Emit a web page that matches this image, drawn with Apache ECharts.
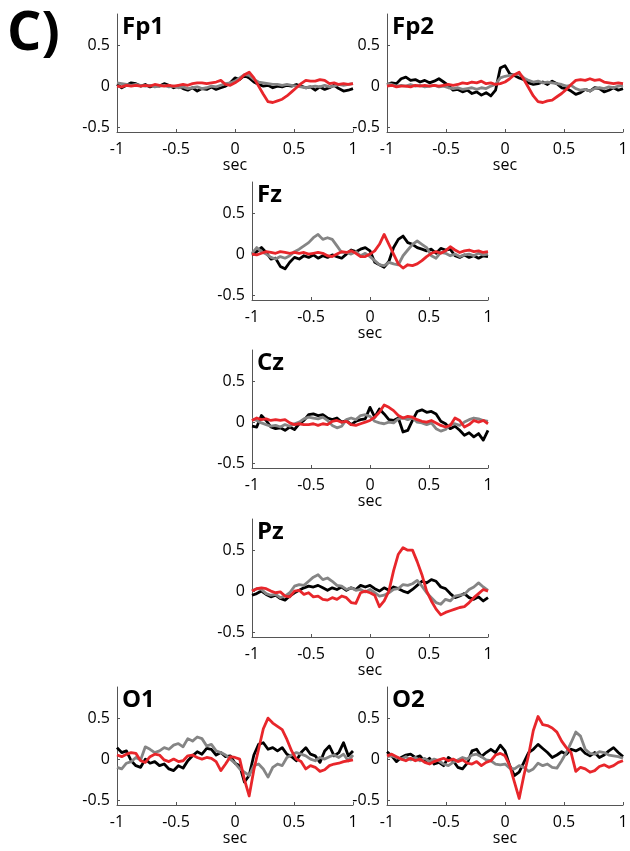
<!DOCTYPE html>
<html>
<head>
<meta charset="utf-8">
<script src="https://cdn.jsdelivr.net/npm/echarts@6/dist/echarts.min.js"></script>
<style>
html,body{margin:0;padding:0;background:#fff;}
#chart{width:630px;height:851px;}
</style>
</head>
<body>
<div id="chart"></div>
<script>
// ---- data (time in seconds) ----
const times = [-1,-0.96,-0.92,-0.88,-0.84,-0.8,-0.76,-0.72,-0.68,-0.64,-0.6,-0.56,-0.52,-0.48,-0.44,-0.4,-0.36,-0.32,-0.28,-0.24,-0.2,-0.16,-0.12,-0.08,-0.04,0,0.04,0.08,0.12,0.16,0.2,0.24,0.28,0.32,0.36,0.4,0.44,0.48,0.52,0.56,0.6,0.64,0.68,0.72,0.76,0.8,0.84,0.88,0.92,0.96,1];

const xTicks = [-1,-0.5,0,0.5,1];
const yTicks = [-0.5,0,0.5];
const panelNames = ['Fp1','Fp2','Fz','Cz','Pz','O1','O2'];

const fp1Black = [0.02,-0.02,0.01,0.04,0.03,0.00,0.02,-0.01,0.01,0.00,0.03,0.01,-0.02,0.00,-0.03,-0.05,-0.02,-0.06,-0.03,-0.04,-0.01,-0.04,-0.02,0.00,0.04,0.10,0.08,0.13,0.10,0.05,0.02,0.00,0.01,-0.02,0.00,-0.01,0.01,0.00,0.02,0.00,-0.02,-0.01,-0.05,-0.01,-0.04,-0.02,0.01,-0.03,-0.06,-0.05,-0.03];
const fp1Gray = [0.04,0.03,0.02,0.01,0.02,0.01,0.00,0.01,-0.01,0.00,0.01,-0.01,0.00,-0.02,-0.01,-0.03,-0.02,-0.01,-0.03,-0.02,0.00,-0.01,0.01,0.03,0.04,0.06,0.10,0.14,0.13,0.08,0.05,0.04,0.03,0.02,0.02,0.01,0.02,0.01,0.00,-0.01,-0.02,-0.01,0.00,-0.01,0.01,-0.01,0.00,0.02,0.01,0.02,0.03];
const fp1Red = [0.00,-0.01,0.01,0.00,0.01,0.00,0.01,0.00,0.02,0.01,0.00,0.01,0.00,0.01,0.02,0.01,0.03,0.04,0.04,0.03,0.04,0.05,0.07,0.02,0.01,0.04,0.08,0.14,0.17,0.10,0.00,-0.10,-0.19,-0.20,-0.18,-0.16,-0.12,-0.07,-0.02,0.03,0.07,0.06,0.06,0.08,0.07,0.03,0.04,0.02,0.03,0.02,0.03];

const fp2Black = [0.02,0.04,0.03,0.09,0.11,0.07,0.08,0.05,0.07,0.04,0.06,0.09,0.05,0.01,-0.05,-0.04,-0.07,-0.05,-0.09,-0.07,-0.11,-0.08,-0.12,-0.05,0.22,0.25,0.15,0.13,0.10,0.08,0.04,0.02,0.03,0.05,0.02,0.06,0.03,-0.02,-0.03,-0.06,-0.10,-0.08,-0.04,-0.06,-0.02,-0.03,-0.07,-0.05,-0.02,-0.05,-0.03];
const fp2Gray = [0.03,0.02,0.00,0.01,0.00,0.02,0.00,0.01,-0.01,0.00,0.01,-0.01,0.00,-0.02,-0.03,-0.02,-0.04,-0.03,-0.02,-0.04,-0.02,-0.03,0.00,0.02,0.10,0.12,0.13,0.14,0.15,0.10,0.07,0.05,0.06,0.04,0.05,0.04,0.03,0.02,0.00,0.01,-0.03,-0.05,-0.04,-0.06,-0.03,-0.02,-0.03,-0.01,-0.02,0.00,0.01];
const fp2Red = [0.00,0.01,-0.01,0.00,0.00,-0.01,0.01,0.00,0.01,0.00,0.01,0.00,0.01,0.02,0.01,0.02,0.04,0.03,0.05,0.04,0.06,0.03,0.04,0.02,0.03,0.05,0.09,0.14,0.17,0.08,-0.02,-0.12,-0.19,-0.20,-0.18,-0.17,-0.13,-0.09,-0.04,0.02,0.07,0.08,0.07,0.09,0.07,0.08,0.05,0.04,0.03,0.04,0.03];

const fzBlack = [-0.01,0.03,0.08,0.02,-0.06,-0.05,-0.15,-0.18,-0.10,-0.04,-0.06,-0.02,-0.04,-0.01,-0.05,-0.02,-0.04,-0.01,-0.03,-0.05,0.00,0.05,0.03,0.06,0.08,0.04,-0.10,-0.13,-0.16,-0.09,0.08,0.18,0.22,0.14,0.12,0.08,0.06,0.04,0.06,0.01,0.07,0.05,0.06,-0.02,-0.04,-0.01,-0.04,-0.02,-0.05,-0.02,-0.03];
const fzGray = [0.01,0.08,0.03,0.00,-0.04,-0.06,-0.03,-0.05,-0.02,0.03,0.06,0.10,0.14,0.20,0.24,0.18,0.20,0.18,0.10,0.02,0.02,0.00,0.03,-0.02,0.01,-0.03,-0.08,-0.13,-0.14,-0.10,-0.12,-0.13,-0.02,0.05,0.12,0.16,0.12,0.08,-0.02,-0.05,0.02,0.01,-0.02,0.00,-0.03,-0.01,0.00,-0.02,0.01,-0.01,0.00];
const fzRed = [0.00,-0.01,0.01,0.03,0.02,0.01,0.03,0.02,0.01,0.02,0.01,0.02,0.00,0.01,0.02,0.01,-0.02,-0.03,0.00,0.03,0.02,0.04,0.01,-0.03,-0.03,0.00,0.04,0.12,0.24,0.12,0.00,-0.12,-0.17,-0.13,-0.14,-0.12,-0.08,-0.03,0.01,0.03,0.01,0.04,0.09,0.05,0.02,0.04,0.05,0.03,0.04,0.02,0.03];

const czBlack = [-0.05,-0.06,0.08,0.02,-0.06,-0.08,-0.07,-0.10,-0.06,-0.09,-0.02,0.02,0.09,0.10,0.08,0.09,0.05,0.03,0.05,0.00,0.02,-0.03,0.01,0.03,0.04,0.18,0.06,0.16,0.10,0.03,0.02,0.05,-0.12,-0.10,0.02,0.13,0.15,0.12,0.13,0.10,0.01,-0.02,-0.08,-0.05,-0.10,-0.16,-0.13,-0.18,-0.14,-0.22,-0.10];
const czGray = [0.04,0.02,-0.01,-0.03,-0.05,-0.04,-0.06,-0.03,-0.05,-0.02,0.00,0.04,0.06,0.05,0.04,0.06,0.02,-0.04,-0.07,-0.05,0.03,0.05,0.03,0.08,0.09,0.07,0.01,-0.01,-0.02,0.00,-0.01,0.04,0.05,0.03,0.05,0.00,-0.01,-0.03,-0.01,-0.08,-0.11,-0.09,-0.03,-0.02,-0.04,0.00,0.03,0.05,0.04,0.02,0.01];
const czRed = [0.02,0.05,0.03,0.04,0.02,0.03,0.02,0.03,-0.01,-0.03,-0.02,-0.03,-0.03,-0.02,-0.04,-0.02,-0.03,0.01,0.02,0.00,0.01,-0.03,-0.04,-0.02,0.00,0.02,0.06,0.12,0.21,0.18,0.14,0.08,0.05,0.07,0.06,0.03,0.01,0.00,0.02,-0.01,-0.04,-0.06,-0.04,0.05,0.02,-0.06,-0.03,0.02,0.00,0.02,-0.02];

const pzBlack = [-0.05,-0.03,0.00,-0.04,-0.07,-0.05,-0.09,-0.11,-0.06,-0.02,0.01,0.04,0.06,0.05,0.07,0.04,0.01,0.04,0.02,0.05,0.01,0.04,0.02,0.07,0.05,0.07,0.03,0.00,0.04,0.01,0.05,0.03,0.00,-0.02,0.02,0.07,0.12,0.10,0.14,0.12,0.05,0.03,-0.03,-0.08,-0.06,-0.03,-0.08,-0.10,-0.07,-0.12,-0.08];
const pzGray = [0.00,0.03,0.02,-0.03,-0.05,-0.04,-0.08,-0.06,-0.02,0.06,0.08,0.07,0.12,0.17,0.20,0.14,0.16,0.12,0.07,0.06,0.02,0.04,0.01,0.02,-0.01,0.02,-0.02,-0.06,-0.05,-0.02,0.02,0.03,0.08,0.07,0.09,0.13,0.06,-0.02,-0.08,-0.14,-0.16,-0.10,-0.12,-0.06,-0.05,-0.04,0.02,0.05,0.10,0.05,0.01];
const pzRed = [0.00,0.03,0.04,0.03,0.00,-0.02,-0.01,-0.06,-0.07,0.00,0.01,-0.04,-0.02,-0.07,-0.06,-0.10,-0.11,-0.08,-0.10,-0.06,-0.08,-0.14,-0.15,-0.02,0.00,-0.02,-0.05,-0.19,-0.12,0.00,0.25,0.45,0.53,0.50,0.50,0.36,0.20,0.00,-0.12,-0.22,-0.29,-0.26,-0.24,-0.22,-0.20,-0.19,-0.14,-0.08,-0.03,0.02,0.00];

const o1Black = [0.14,0.08,0.10,-0.02,-0.08,-0.10,0.00,-0.05,-0.03,-0.08,-0.06,-0.12,-0.14,-0.08,-0.11,-0.02,0.04,0.09,0.06,0.13,0.12,0.05,0.08,0.03,0.04,-0.05,-0.08,-0.28,-0.20,0.05,0.18,0.20,0.12,0.14,0.10,0.14,0.06,0.03,-0.02,0.08,0.14,0.06,0.04,-0.04,0.10,0.16,0.04,0.08,0.20,0.04,0.10];
const o1Gray = [-0.10,-0.12,-0.05,-0.03,0.02,-0.01,0.15,0.12,0.08,0.10,0.14,0.12,0.17,0.19,0.15,0.25,0.22,0.27,0.25,0.16,0.18,0.10,0.08,0.05,0.00,-0.05,-0.12,-0.16,-0.20,-0.08,-0.06,-0.12,-0.22,-0.10,-0.06,-0.08,0.02,0.05,0.08,0.06,0.04,0.00,-0.02,0.02,0.00,0.03,0.05,0.02,0.06,-0.02,0.05];
const o1Red = [0.05,0.03,0.06,0.08,0.07,-0.02,-0.04,0.03,0.06,0.05,-0.01,-0.03,0.00,-0.03,-0.02,0.04,0.05,0.02,0.00,0.02,0.01,-0.03,-0.14,-0.06,0.03,0.02,0.00,-0.25,-0.45,-0.13,0.12,0.37,0.50,0.44,0.40,0.36,0.24,0.10,0.00,-0.03,-0.12,-0.08,-0.10,-0.15,-0.13,-0.08,-0.06,-0.05,-0.03,-0.02,-0.01];

const o2Black = [0.09,0.04,-0.03,0.02,0.05,0.06,0.02,0.04,-0.03,0.01,-0.06,-0.04,-0.08,0.02,-0.02,-0.10,-0.12,-0.05,0.10,0.12,0.03,0.08,0.12,0.08,0.17,0.10,-0.08,-0.20,-0.16,-0.04,0.08,0.12,0.18,0.13,0.08,0.02,0.05,0.09,0.06,0.12,0.10,0.13,0.07,0.04,0.08,0.02,0.05,0.10,0.14,0.08,0.03];
const o2Gray = [0.03,0.04,0.02,0.00,0.03,-0.01,0.02,-0.02,0.01,-0.03,0.00,-0.02,-0.06,-0.08,-0.04,-0.01,0.02,0.00,0.05,0.06,0.03,-0.01,-0.02,-0.06,-0.07,-0.06,-0.11,-0.12,-0.08,-0.10,-0.15,-0.12,-0.05,-0.08,-0.06,-0.10,-0.11,-0.02,0.08,0.20,0.33,0.28,0.12,0.07,0.06,0.09,0.08,0.05,0.04,0.03,0.01];
const o2Red = [0.04,0.06,0.03,0.00,-0.02,0.01,-0.02,0.00,-0.04,-0.06,-0.03,-0.01,0.01,-0.02,0.00,-0.03,-0.01,-0.05,-0.06,-0.03,-0.08,-0.04,-0.02,0.05,0.07,0.04,-0.08,-0.28,-0.48,-0.20,0.05,0.35,0.52,0.42,0.41,0.38,0.33,0.22,0.14,0.08,-0.15,-0.10,-0.12,-0.16,-0.14,-0.09,-0.07,-0.10,-0.08,-0.04,-0.02];

const panelSeries = [
  [fp1Black, fp1Gray, fp1Red],
  [fp2Black, fp2Gray, fp2Red],
  [fzBlack, fzGray, fzRed],
  [czBlack, czGray, czRed],
  [pzBlack, pzGray, pzRed],
  [o1Black, o1Gray, o1Red],
  [o2Black, o2Gray, o2Red]
];

// ---- layout (pixels) ----
const gridPos = [
  {left:117, top:14},
  {left:387, top:14},
  {left:252, top:182},
  {left:252, top:350},
  {left:252, top:519},
  {left:117, top:687},
  {left:387, top:687}
];
const GW = 236, GH = 118;
const colors = ['#000000', '#858585', '#e8262b'];
const FONT = '"Open Sans", "Noto Sans", sans-serif';

const grids = [], xAxes = [], yAxes = [], series = [], graphics = [];
gridPos.forEach((p, k) => {
  grids.push({left:p.left, top:p.top, width:GW, height:GH, outerBoundsMode:'none', containLabel:false});
  xAxes.push({
    type:'value', gridIndex:k, min:-1, max:1, interval:0.5,
    axisLine:{show:true, onZero:false, lineStyle:{color:'#555', width:1}},
    axisTick:{show:true, inside:true, length:3, lineStyle:{color:'#555'}, customValues:xTicks},
    axisLabel:{color:'#000', fontSize:16, fontFamily:FONT, margin:9, customValues:xTicks},
    splitLine:{show:false},
    name:'sec', nameLocation:'middle', nameGap:24,
    nameTextStyle:{color:'#000', fontSize:16, fontFamily:FONT}
  });
  yAxes.push({
    type:'value', gridIndex:k, min:-0.56, max:0.88,
    axisLine:{show:true, onZero:false, lineStyle:{color:'#555', width:1}},
    axisTick:{show:true, inside:true, length:3, lineStyle:{color:'#555'}, customValues:yTicks},
    axisLabel:{color:'#000', fontSize:16, fontFamily:FONT, margin:7, customValues:yTicks},
    splitLine:{show:false}
  });
  panelSeries[k].forEach((vals, j) => {
    series.push({
      type:'line', xAxisIndex:k, yAxisIndex:k,
      data: times.map((t, i) => [t, vals[i]]),
      showSymbol:false, symbol:'none',
      lineStyle:{color:colors[j], width:2.8, join:'round'},
      z: 2 + j,
      animation:false, silent:true
    });
  });
  graphics.push({
    type:'text', left:p.left + 5, top:p.top + 1,
    style:{text:panelNames[k], font:'bold 24px ' + FONT, fill:'#000'}
  });
});
graphics.push({
  type:'text', left:7, top:8,
  style:{text:'C)', font:'bold 54px ' + FONT, fill:'#000'}
});

const chart = echarts.init(document.getElementById('chart'), null, {renderer:'canvas'});
chart.setOption({
  animation:false,
  backgroundColor:'#fff',
  grid:grids, xAxis:xAxes, yAxis:yAxes, series:series,
  graphic:graphics
});
</script>
</body>
</html>
